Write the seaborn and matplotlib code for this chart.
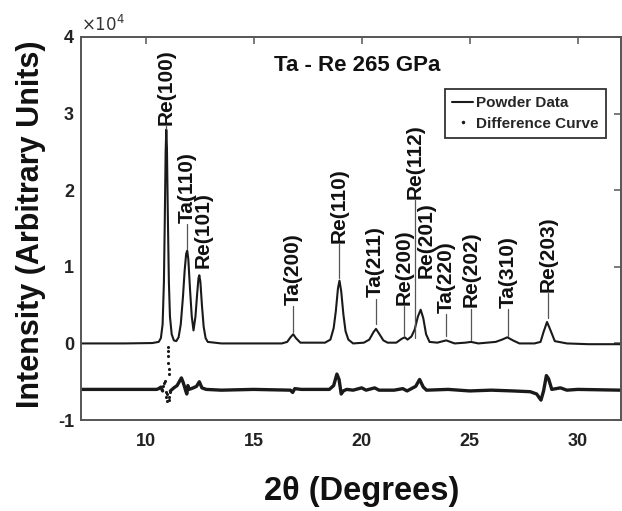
import numpy as np
import pandas as pd
import matplotlib
matplotlib.use("Agg")
import matplotlib.pyplot as plt
from matplotlib.lines import Line2D
from matplotlib.ticker import FuncFormatter
import seaborn as sns

# ---------------- data ----------------
POWDER_2THETA = [7.0, 9.0, 10.3, 10.6, 10.7, 10.78, 10.84, 10.88, 10.92, 10.95, 10.98, 11.02,
                 11.07, 11.12, 11.2, 11.3, 11.41, 11.52, 11.62, 11.72, 11.8, 11.87, 11.92,
                 11.97, 12.05, 12.13, 12.21, 12.3, 12.38, 12.44, 12.48, 12.53, 12.6, 12.68,
                 12.77, 12.87, 13.5, 16.3, 16.55, 16.7, 16.83, 16.95, 17.16, 18.3, 18.55,
                 18.7, 18.8, 18.9, 18.97, 19.05, 19.15, 19.25, 19.38, 19.6, 20.1, 20.35,
                 20.55, 20.66, 20.8, 21.0, 21.2, 21.6, 21.85, 21.99, 22.12, 22.3, 22.45,
                 22.6, 22.73, 22.85, 22.98, 23.14, 23.5, 23.91, 24.3, 24.8, 25.06, 25.4,
                 26.2, 26.5, 26.74, 27.0, 27.3, 28.0, 28.28, 28.42, 28.58, 28.7, 28.8,
                 28.94, 29.5, 30.5, 32.0]
POWDER_I = [0, 0, 50, 200, 700, 2500, 8000, 16000, 25000, 27900, 25500, 17000,
            8000, 3500, 1200, 400, 300, 800, 2500, 6000, 9500, 11700, 12100,
            11000, 7000, 3500, 1700, 3500, 6500, 8500, 8900, 8000, 5000, 2200,
            700, 200, 0, 0, 200, 800, 1200, 700, 100, 100, 500,
            2000, 4200, 7200, 8200, 6800, 3800, 1600, 500, 0, 100, 500,
            1500, 1900, 1300, 400, 100, 100, 600, 800, 500, 900, 1800,
            3500, 4400, 3300, 1200, 200, 100, 400, 0, 100, 200, 0,
            200, 500, 800, 400, 0, 0, 200, 1500, 2800, 2000, 1300,
            300, 0, -100, -100]

DIFF_2THETA = [7.0, 8.0, 9.0, 10.0, 10.5, 10.6, 10.7, 10.78,
               11.14, 11.3, 11.45, 11.55, 11.65, 11.72, 11.8, 11.85, 11.9, 11.95, 12.0,
               12.2, 12.35, 12.48, 12.6, 12.8, 13.5, 15.0, 16.7, 16.8, 16.9, 17.2, 18.5,
               18.7, 18.85, 18.95, 19.05, 19.15, 19.3, 19.6, 20.0, 20.2, 20.6, 20.8, 21.5,
               21.9, 22.1, 22.5, 22.68, 22.85, 23.0, 24.0, 25.0, 26.0, 27.0, 27.8, 28.1,
               28.3, 28.42, 28.55, 28.65, 28.8, 29.2, 29.5, 30.0, 32.0]
DIFF_I = [-6000, -6000, -6000, -6000, -6000, -5900, -5700, -6200,
          -6200, -5800, -5500, -5000, -4500, -5000, -5700, -6200, -6600, -5500, -6000,
          -5800, -5600, -5000, -5800, -6000, -6100, -6000, -6100, -6400, -5900, -6000, -6000,
          -5500, -4000, -4700, -6600, -6200, -6000, -6100, -5800, -6100, -5800, -6100, -6100,
          -5900, -6200, -5600, -4700, -5700, -6100, -6000, -6200, -6100, -6200, -6300, -6600,
          -7400, -6200, -4200, -4600, -6000, -5800, -6100, -6000, -6100]
DIFF_SEGMENT = [0] * 8 + [1] * 56

# scattered difference points around the Re(100) peak
SCAT_2THETA = [10.8, 10.84, 10.88, 10.92, 10.95, 10.98, 11.0, 11.02, 11.03, 11.04,
               11.05, 11.06, 11.07, 11.08, 11.09, 11.11]
SCAT_I = [-5600, -5100, -4900, -6300, -7000, -7500, -6600, -500, -1000, -1600,
          -2500, -3300, -4000, -7000, -7400, -6300]

PEAK_NAMES = ["Re(100)", "Ta(110)", "Re(101)", "Ta(200)", "Re(110)", "Ta(211)", "Re(200)",
              "Re(112)", "Re(201)", "Ta(220)", "Re(202)", "Ta(310)", "Re(203)"]
PEAK_2THETA = [10.95, 11.9, 12.65, 16.83, 18.97, 20.64, 21.94,
               22.45, 22.96, 23.9, 25.06, 26.77, 28.62]
LABEL_BOTTOM = [28500, 15700, 9900, 5000, 13100, 6000, 5000,
                18900, 8600, 4000, 4700, 4600, 6700]
TICK_END = [28000, 12300, 9900, 1500, 8500, 2500, 1100,
            700, 8600, 1000, 500, 1000, 3300]

TITLE = "Ta - Re 265 GPa"
XLABEL = "2θ (Degrees)"
YLABEL = "Intensity (Arbitrary Units)"
X_TICKS = [10, 15, 20, 25, 30]
Y_TICKS = [-10000, 0, 10000, 20000, 30000, 40000]
Y_SCALE = 10000

# ---------------- figure ----------------
sns.set_style("white")
plt.rcParams["font.family"] = ["Liberation Sans", "DejaVu Sans"]
plt.rcParams["axes.unicode_minus"] = False

fig = plt.figure(figsize=(6.22, 5.11), dpi=100)
ax = fig.add_axes([0.1302, 0.178, 0.868, 0.7496])

powder = pd.DataFrame({"x": POWDER_2THETA, "y": POWDER_I})
diff = pd.DataFrame({"x": DIFF_2THETA, "y": DIFF_I, "seg": DIFF_SEGMENT})
scat = pd.DataFrame({"x": SCAT_2THETA, "y": SCAT_I})

sns.lineplot(data=powder, x="x", y="y", color="#1a1a1a", lw=1.5, ax=ax,
             estimator=None, sort=False)
sns.lineplot(data=diff, x="x", y="y", units="seg", estimator=None, sort=False,
             color="#1a1a1a", lw=2.4, ax=ax)
sns.scatterplot(data=scat, x="x", y="y", color="#1a1a1a", s=5, linewidth=0, ax=ax)

# peak labels
for name, px, lb, te in zip(PEAK_NAMES, PEAK_2THETA, LABEL_BOTTOM, TICK_END):
    ax.text(px, lb, name, rotation=90, ha="center", va="bottom",
            fontsize=15, fontweight="bold", color="#111111")
    if te < lb:
        ax.plot([px, px], [lb - 150, te], color="#555555", lw=0.9)

ax.text(19.8, 36300, TITLE, ha="center", va="center", fontsize=16,
        fontweight="bold", color="#111111")

ax.set_xlim(7, 32)
ax.set_ylim(-10000, 40000)
ax.set_xticks(X_TICKS)
ax.set_yticks(Y_TICKS)
ax.yaxis.set_major_formatter(FuncFormatter(lambda v, p: f"{v / Y_SCALE:g}"))
ax.text(0.0, 1.008, r"$\times10^{4}$", transform=ax.transAxes, ha="left",
        va="bottom", fontsize=12, color="#333333")

ax.tick_params(direction="in", length=5, width=1.1, colors="#555555",
               top=True, right=True, labelcolor="#222222")
ax.tick_params(axis="x", pad=9)
ax.tick_params(axis="y", pad=5)
for lab in ax.get_xticklabels() + ax.get_yticklabels():
    lab.set_fontsize(13)
    lab.set_fontweight("bold")

for sp in ax.spines.values():
    sp.set_visible(True)
    sp.set_color("#555555")
    sp.set_linewidth(1.4)

ax.set_xlabel(XLABEL, fontsize=23.5, fontweight="bold", color="#111111")
ax.set_ylabel(YLABEL, fontsize=22, fontweight="bold", color="#111111")
ax.xaxis.set_label_coords(0.52, -0.145)
ax.yaxis.set_label_coords(-0.064, 0.51)

handles = [Line2D([0], [0], color="#1a1a1a", lw=1.5),
           Line2D([0], [0], color="#1a1a1a", lw=0, marker=".", markersize=3)]
leg = ax.legend(handles, ["Powder Data", "Difference Curve"], loc="upper right",
                bbox_to_anchor=(0.972, 0.864), borderaxespad=0, fancybox=False,
                framealpha=1, edgecolor="#333333", handlelength=1.4,
                handletextpad=0.2, borderpad=0.45, labelspacing=0.45,
                prop={"weight": "bold", "size": 11})
leg.get_frame().set_linewidth(1.3)

fig.savefig("out.png", dpi=100)
